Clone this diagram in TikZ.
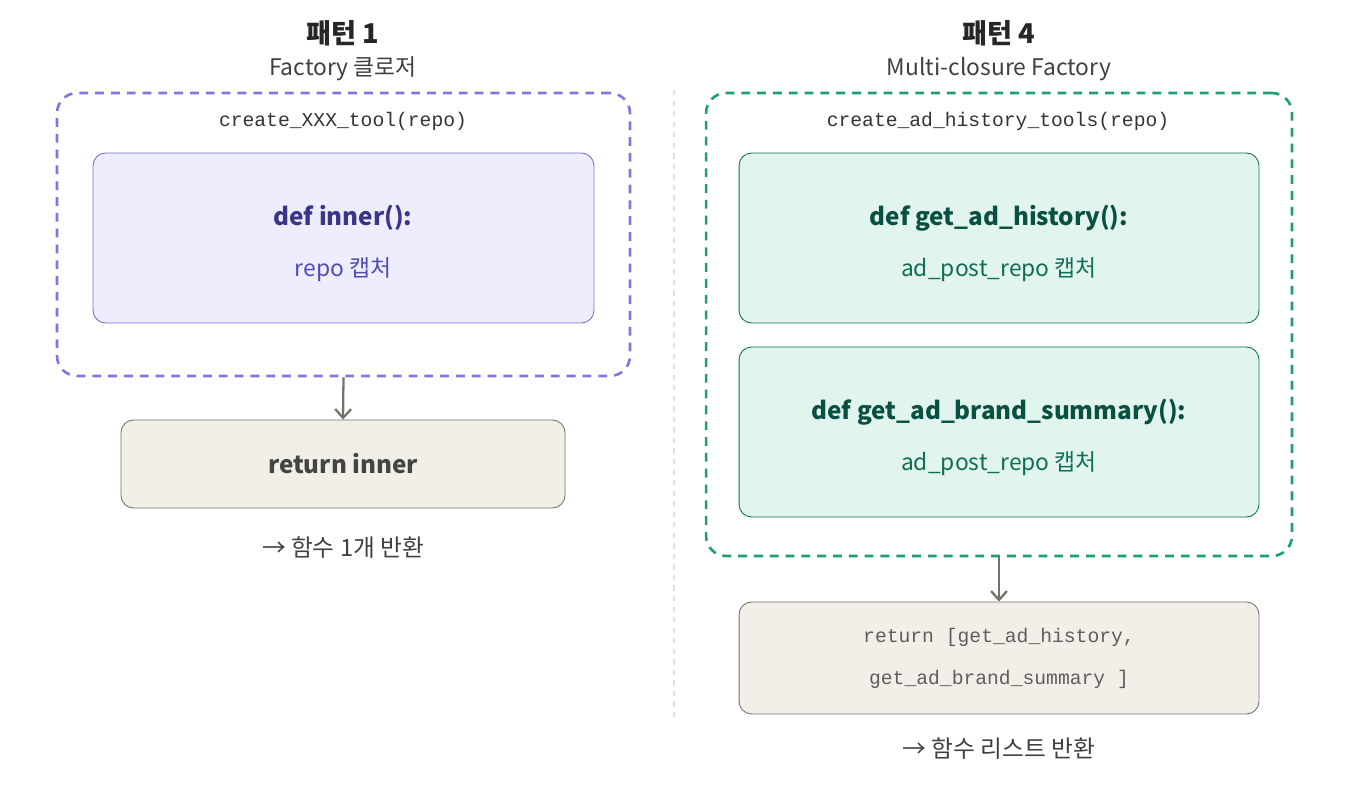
\documentclass[tikz,border=0pt]{standalone}
\usepackage{fontspec}
\setmainfont{Noto Sans CJK KR}
\setmonofont{Liberation Mono}
\usepackage{tikz}
\usetikzlibrary{positioning,arrows.meta}
\usepackage{xcolor}

\definecolor{purpleLine}{HTML}{7F77DD}
\definecolor{purpleFill}{HTML}{EEEDFE}
\definecolor{purpleDark}{HTML}{3C3489}
\definecolor{purpleMid}{HTML}{534AB7}
\definecolor{greenLine}{HTML}{1D9E75}
\definecolor{greenFill}{HTML}{E1F5EE}
\definecolor{greenDark}{HTML}{085041}
\definecolor{greenMid}{HTML}{0F6E56}
\definecolor{grayFill}{HTML}{F1EFE8}
\definecolor{grayLine}{HTML}{73726C}
\definecolor{grayText}{HTML}{444441}
\definecolor{grayMono}{HTML}{5F5E5A}

\begin{document}
\begin{tikzpicture}[
    x=0.02cm, y=-0.02cm,
    node distance=0.3cm,  % base gap between stacked labels
    title/.style = {font=\fontsize{15.5}{18}\selectfont\bfseries, text=black!85},
    subtitle/.style = {font=\fontsize{13}{15}\selectfont, text=black!75},
    outer/.style = {draw, dashed, line width=1.5pt, rounded corners=0.4cm, dash pattern=on 5pt off 4pt},
    inner/.style = {draw, line width=0.5pt, rounded corners=0.25cm},
    boxtxt/.style = {align=center},
    head/.style = {font=\fontsize{13.8}{16}\selectfont\bfseries},
    capt/.style = {font=\fontsize{13}{15}\selectfont},
    codelbl/.style = {font=\ttfamily\fontsize{11.2}{14}\selectfont, text=black!80},
    retbox/.style = {inner, fill=grayFill, draw=grayLine, text=grayText},
    note/.style = {font=\fontsize{13.5}{16}\selectfont, text=black!75},
    arr/.style = {draw=grayLine, line width=1.3pt, -{Straight Barb[length=5pt,width=9pt]}}
  ]
    \useasboundingbox (0,0) rectangle (1372,808);

    % separator between the two patterns
    \draw[black!12, dashed, line width=0.6pt] (674,90) -- (674,720);

    % ---- pattern 1 (left)
    \node[title] (t1) at (343,33) {패턴 1};
    \node[subtitle] (s1) at (343,69) {Factory 클로저};
    \node[outer, draw=purpleLine, minimum width=11.46cm, minimum height=5.66cm] (outerL) at (343.5,234.5) {};
    \node[codelbl] (codeL) at (343,121) {create\_XXX\_tool(repo)};
    \node[inner, fill=purpleFill, draw=purpleMid!80, minimum width=10.02cm, minimum height=3.4cm] (innerL) at (343.5,238) {};
    \node[head, text=purpleDark] (innerHead) at (343,218) {def inner():};
    \node[capt, text=purpleMid] (innerCapt) at (343,270) {repo 캡처};
    \node[retbox, minimum width=8.88cm, minimum height=1.76cm, font=\fontsize{13.8}{16}\selectfont\bfseries] (retL) at (343,464) {return inner};
    \node[note] (noteL) at (343,548) {→ 함수 1개 반환};

    \draw[arr] (outerL.south) -- (retL.north);

    % ---- pattern 4 (right)
    \node[title] (t4) at (999,33) {패턴 4};
    \node[subtitle] (s4) at (999,69) {Multi-closure Factory};
    \node[outer, draw=greenLine, minimum width=11.72cm, minimum height=9.26cm] (outerR) at (999,324.5) {};
    \node[codelbl] (codeR) at (998,121) {create\_ad\_history\_tools(repo)};
    \node[inner, fill=greenFill, draw=greenMid, minimum width=10.4cm, minimum height=3.4cm] (histR) at (999,238) {};
    \node[head, text=greenDark] (histHead) at (999,218) {def get\_ad\_history():};
    \node[capt, text=greenMid] (histCapt) at (999,270) {ad\_post\_repo 캡처};
    \node[inner, fill=greenFill, draw=greenMid, minimum width=10.4cm, minimum height=3.4cm] (brandR) at (999,432) {};
    \node[head, text=greenDark] (brandHead) at (999,412) {def get\_ad\_brand\_summary():};
    \node[capt, text=greenMid] (brandCapt) at (999,464) {ad\_post\_repo 캡처};
    \node[retbox, boxtxt, minimum width=10.4cm, minimum height=2.24cm, text=grayMono, font=\ttfamily\fontsize{11.2}{14}\selectfont] (retR) at (999,658)
      {return [get\_ad\_history,\\[10pt] get\_ad\_brand\_summary ]};
    \node[note] (noteR) at (999,749) {→ 함수 리스트 반환};

    \draw[arr] (outerR.south) -- (retR.north);
\end{tikzpicture}
\end{document}
